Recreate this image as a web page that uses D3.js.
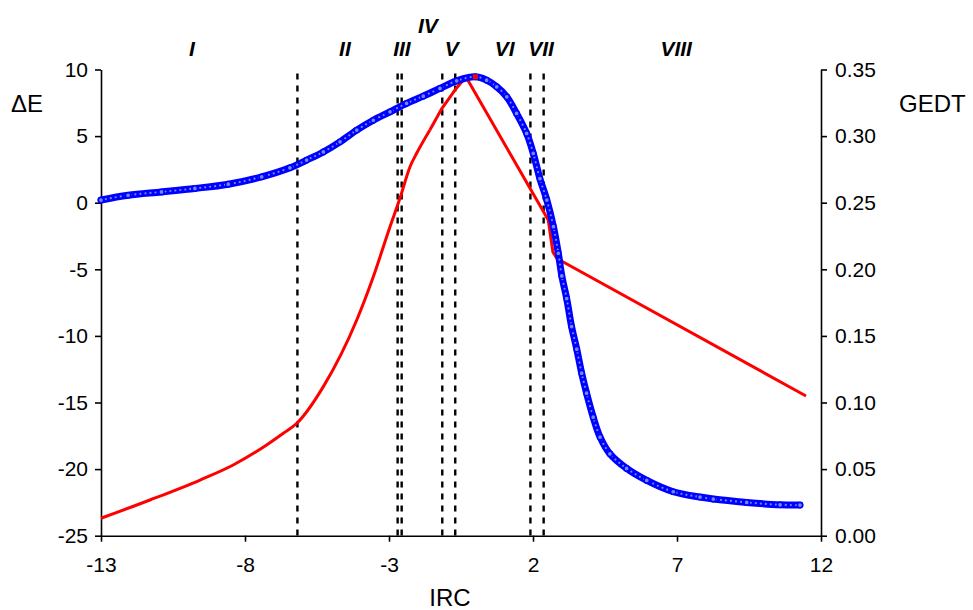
<!DOCTYPE html>
<html>
<head>
<meta charset="utf-8">
<script src="https://cdn.jsdelivr.net/npm/d3@7"></script>
<style>
  body { margin: 0; background: #fff; }
  svg { display: block; font-family: Arial, "Liberation Sans", sans-serif; }
</style>
</head>
<body>
<svg id="chart" width="973" height="610"></svg>
<script>
// energy profile along IRC (left axis, dE)
const energyIrc = [-13, -12.06, -10.9, -9.74, -8.58, -7.42, -6.44, -5.86, -5.28, -4.7, -4.12, -3.545,
  -2.965, -2.39, -1.81, -1.23, -0.65, -0.01, 0.39, 0.74, 1.09, 1.43, 1.78, 2.01, 2.24, 2.48, 2.71,
  2.88, 3.0, 3.17, 3.34, 3.52, 3.69, 3.86, 4.09, 4.33, 4.67, 5.25, 5.95, 6.87, 7.8, 8.26, 9.42, 10.58, 11.27];
const energyVal = [0.2, 0.56, 0.81, 1.07, 1.39, 1.94, 2.62, 3.2, 3.81, 4.57, 5.45, 6.19,
  6.82, 7.46, 8.0, 8.58, 9.15, 9.45, 9.2, 8.7, 7.95, 6.7, 5.2, 3.7, 1.8, 0.2, -1.8,
  -3.8, -5.5, -7.2, -9.3, -11.0, -12.8, -14.3, -16.1, -17.6, -18.85, -19.95, -20.85, -21.7, -22.1, -22.25, -22.5, -22.68, -22.7];

// GEDT along IRC (right axis)
const gedtIrc = [-13, -11.3, -9.56, -8.41, -7.25, -6.67, -6.2, -5.28, -4.12, -3.545, -2.965, -2.62, -2.27,
  -2.04, -1.58, -1.16, -0.71, -0.33, 2.53, 2.69, 2.83, 11.48];
const gedtVal = [0.0131, 0.0268, 0.0418, 0.0531, 0.0681, 0.0769, 0.0844, 0.1119, 0.1619, 0.1944, 0.232, 0.2533, 0.277,
  0.2871, 0.3046, 0.3209, 0.3346, 0.3446, 0.237, 0.213, 0.2081, 0.1049];

// transition state marker
const tsIrc = 0;
const tsEnergy = 9.45;

// region boundaries (dashed lines) and region labels
const boundaries = [-6.18, -2.7, -2.56, -1.15, -0.7, 1.91, 2.37];
const regionNames = ['I', 'II', 'III', 'IV', 'V', 'VI', 'VII', 'VIII'];
const regionPos = [-9.84, -4.53, -2.55, -1.65, -0.82, 1.02, 2.28, 6.97];

const xTicks = [-13, -8, -3, 2, 7, 12];
const yLeftTicks = [-25, -20, -15, -10, -5, 0, 5, 10];
const yRightTicks = [0, 0.05, 0.1, 0.15, 0.2, 0.25, 0.3, 0.35];

const plotLeft = 101, plotRight = 821, plotTop = 69.5, plotBottom = 535.7;

const svg = d3.select('#chart');

const x = d3.scaleLinear().domain([-13, 12]).range([plotLeft, plotRight]);
const yL = d3.scaleLinear().domain([-25, 10]).range([plotBottom, plotTop]);
const yR = d3.scaleLinear().domain([0, 0.35]).range([plotBottom, plotTop]);

// dashed region lines
svg.append('g').selectAll('line')
  .data(boundaries)
  .enter().append('line')
  .attr('x1', d => x(d)).attr('x2', d => x(d))
  .attr('y1', yL(9.7)).attr('y2', plotBottom)
  .attr('stroke', '#000')
  .attr('stroke-width', 2.4)
  .attr('stroke-dasharray', '6,6');

// region labels, IV sits one row up
svg.append('g').selectAll('text')
  .data(regionNames)
  .enter().append('text')
  .attr('x', (d, i) => x(regionPos[i]))
  .attr('y', d => d === 'IV' ? 33 : 56)
  .attr('text-anchor', 'middle')
  .attr('font-size', 21)
  .attr('font-weight', 'bold')
  .attr('font-style', 'italic')
  .text(d => d);

// axes (plain hyphen for negatives, like the original)
function styleAxis(g) {
  g.selectAll('path, line').attr('stroke', '#000').attr('stroke-width', 1.6);
  g.selectAll('text').attr('font-size', 21).attr('fill', '#000')
    .attr('font-family', 'Arial, "Liberation Sans", sans-serif');
}

svg.append('g')
  .attr('transform', `translate(${plotLeft},0)`)
  .call(d3.axisLeft(yL).tickValues(yLeftTicks).tickFormat(d => String(d))
    .tickSize(6).tickSizeOuter(0).tickPadding(7))
  .call(styleAxis);

svg.append('g')
  .attr('transform', `translate(${plotRight},0)`)
  .call(d3.axisRight(yR).tickValues(yRightTicks).tickFormat(d => d.toFixed(2))
    .tickSize(6).tickSizeOuter(0).tickPadding(8))
  .call(styleAxis);

svg.append('g')
  .attr('transform', `translate(0,${plotBottom})`)
  .call(d3.axisBottom(x).tickValues(xTicks).tickFormat(d => String(d))
    .tickSize(6).tickSizeOuter(0).tickPadding(15))
  .call(styleAxis);

// axis titles
svg.append('text').attr('x', 11).attr('y', 112).attr('font-size', 24).text('ΔE');
svg.append('text').attr('x', 899).attr('y', 112).attr('font-size', 24).text('GEDT');
svg.append('text').attr('x', 450).attr('y', 606).attr('text-anchor', 'middle').attr('font-size', 24).text('IRC');

// GEDT curve: smooth rise, straight pieces after
const gedtPts = gedtIrc.map((d, i) => [x(d), yR(gedtVal[i])]);
const split = 14;
svg.append('path')
  .attr('d', d3.line().curve(d3.curveMonotoneX)(gedtPts.slice(0, split + 1)))
  .attr('fill', 'none').attr('stroke', '#f00').attr('stroke-width', 3);
svg.append('path')
  .attr('d', d3.line()(gedtPts.slice(split)))
  .attr('fill', 'none').attr('stroke', '#f00').attr('stroke-width', 3)
  .attr('stroke-linejoin', 'round');

// energy points
const ePts = energyIrc.map((d, i) => [x(d), yL(energyVal[i])]);
const eLine = d3.line().curve(d3.curveCatmullRom.alpha(0.5))(ePts);
svg.append('path')
  .attr('d', eLine)
  .attr('fill', 'none').attr('stroke', '#0000ff').attr('stroke-width', 7)
  .attr('stroke-linecap', 'round');
svg.append('path')
  .attr('d', eLine)
  .attr('fill', 'none').attr('stroke', '#6f8cff').attr('stroke-width', 2.2)
  .attr('stroke-linecap', 'round').attr('stroke-dasharray', '0,5');
svg.append('g').selectAll('circle')
  .data(ePts)
  .enter().append('circle')
  .attr('cx', d => d[0]).attr('cy', d => d[1]).attr('r', 2.6)
  .attr('fill', '#6f8cff').attr('stroke', '#0000ff').attr('stroke-width', 1.5);

svg.append('rect')
  .attr('x', x(tsIrc) - 2.5).attr('y', yL(tsEnergy) - 2.5)
  .attr('width', 5).attr('height', 5).attr('fill', '#f00');
</script>
</body>
</html>
